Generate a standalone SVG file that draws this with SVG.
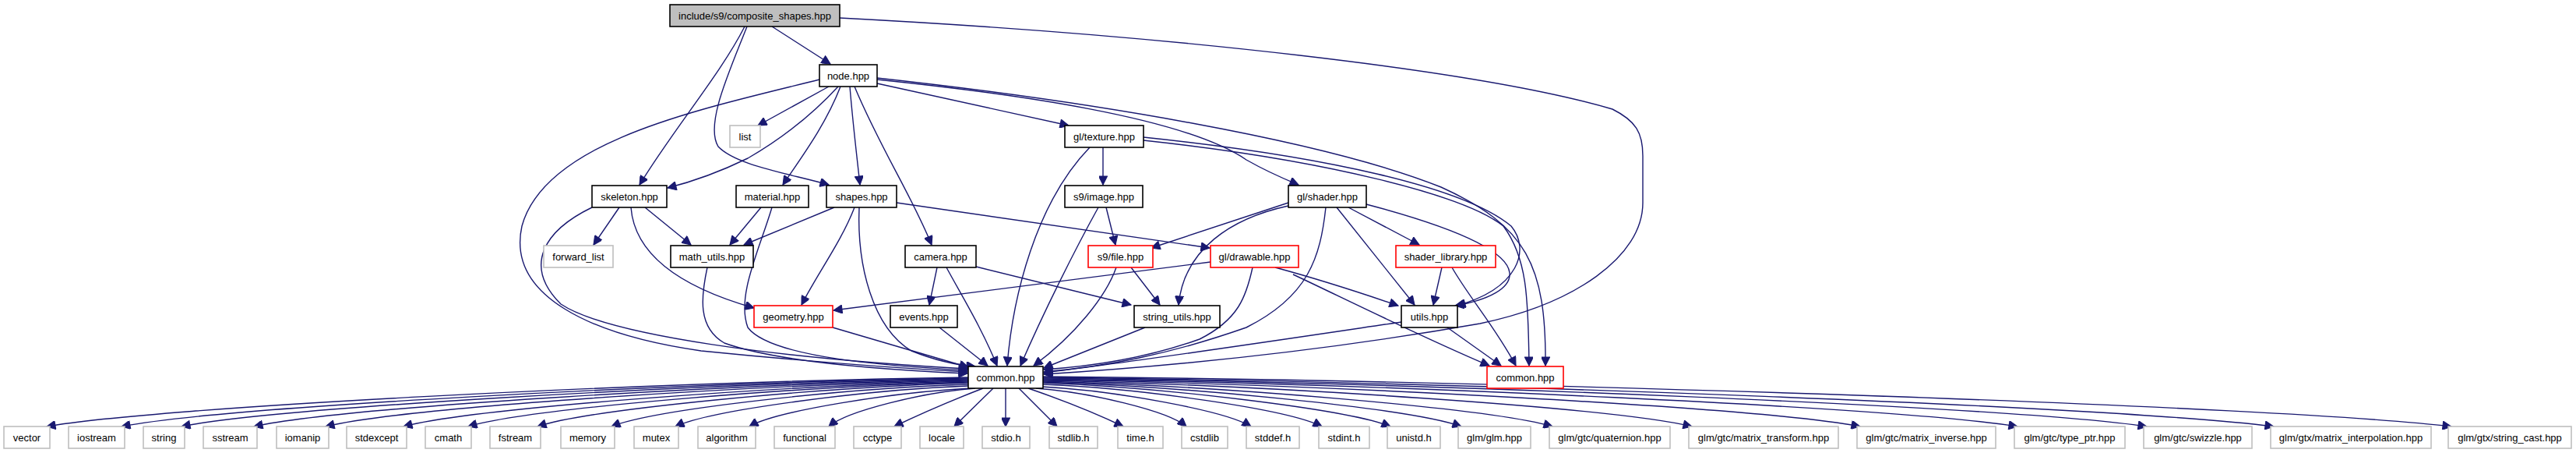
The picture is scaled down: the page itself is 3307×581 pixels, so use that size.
<svg xmlns="http://www.w3.org/2000/svg" width="3307" height="581" viewBox="0 0 3307 581">
<style>
.n rect{fill:#fff;stroke:#000;stroke-width:1.6}
.n.main rect{fill:#bfbfbf}
.n.red rect{stroke:#ff0000}
.n.ext rect{stroke:#bfbfbf}
.n text{font-family:"Liberation Sans",Arial,sans-serif;font-size:13px;text-anchor:middle;fill:#000}
#edges path{fill:none;stroke:#191970;stroke-width:1.4;marker-end:url(#ah)}
</style>
<defs>
<marker id="ah" viewBox="0 0 10 10" refX="10" refY="5" markerWidth="16" markerHeight="11" markerUnits="userSpaceOnUse" orient="auto">
<path d="M0,0 L10,5 L0,10 z" fill="#191970" stroke="#191970"/>
</marker>
</defs>
<rect x="0" y="0" width="3307" height="581" fill="#fff"/>
<g id="edges">
<path d="M991 34 L1066 82"/>
<path d="M956 34 C925 95 865 165 821 237"/>
<path d="M959 34 C935 95 905 160 922 188 C945 212 1010 222 1064 237"/>
<path d="M1078 23 C1500 45 1900 90 2070 140 C2100 155 2109 170 2109 200 L2109 260 C2109 330 2020 390 1900 415 C1700 450 1500 470 1340 480"/>
<path d="M1064 111 L973 161"/>
<path d="M1076 111 C1040 150 1000 180 960 203 C925 220 893 232 857 241"/>
<path d="M1079 111 C1060 160 1030 200 1005 237"/>
<path d="M1091 111 C1095 160 1100 200 1104 237"/>
<path d="M1097 111 C1130 190 1170 250 1196 314"/>
<path d="M1126 107 L1372 161"/>
<path d="M1126 102 C1300 120 1520 150 1600 205 C1630 222 1650 230 1667 237"/>
<path d="M1126 100 C1400 130 1700 180 1850 240 C1960 290 1985 340 1984 469"/>
<path d="M1052 102 C900 140 700 180 670 290 C650 380 760 430 900 450 C1050 465 1150 472 1242 477"/>
<path d="M795 266 L762 314"/>
<path d="M828 266 L887 314"/>
<path d="M810 266 C815 330 880 370 968 395"/>
<path d="M760 266 C700 295 670 340 720 390 C780 430 1000 460 1242 473"/>
<path d="M977 266 L937 314"/>
<path d="M991 266 C975 320 945 380 960 420 C990 460 1150 470 1242 475"/>
<path d="M1071 266 L955 314"/>
<path d="M1097 266 C1080 310 1050 350 1029 391"/>
<path d="M1103 266 C1100 340 1120 420 1170 450 C1200 462 1225 468 1252 470"/>
<path d="M1151 260 L1553 318"/>
<path d="M908 343 C900 380 895 420 930 440 C1000 465 1150 475 1242 479"/>
<path d="M1203 343 L1193 391"/>
<path d="M1215 343 C1235 380 1260 420 1280 469"/>
<path d="M1253 342 L1452 391"/>
<path d="M1420 266 L1432 314"/>
<path d="M1410 266 C1380 320 1340 400 1310 469"/>
<path d="M1452 343 L1489 391"/>
<path d="M1433 343 C1420 380 1380 430 1327 469"/>
<path d="M1554 336 L1070 398"/>
<path d="M1608 343 C1600 380 1590 410 1540 435 C1470 460 1400 470 1340 474"/>
<path d="M1637 343 C1700 360 1760 380 1795 392"/>
<path d="M1660 352 C1720 380 1820 430 1912 469"/>
<path d="M1851 343 L1840 391"/>
<path d="M1864 343 C1885 380 1920 420 1946 469"/>
<path d="M1731 266 L1822 314"/>
<path d="M1716 266 L1816 391"/>
<path d="M1654 260 L1478 318"/>
<path d="M1654 264 C1580 280 1520 320 1513 391"/>
<path d="M1702 266 C1695 330 1680 380 1600 420 C1500 455 1420 470 1340 477"/>
<path d="M1754 262 C1860 290 1935 320 1938 350 C1940 370 1910 385 1868 392"/>
<path d="M1416 189 L1416 237"/>
<path d="M1399 189 C1330 260 1300 380 1293 469"/>
<path d="M1468 176 C1700 200 1880 240 1940 290 C1965 320 1950 370 1870 392"/>
<path d="M1468 180 C1700 205 1880 250 1930 290 C1960 330 1962 380 1963 469"/>
<path d="M1470 420 L1340 472"/>
<path d="M1799 413 C1650 435 1450 465 1340 478"/>
<path d="M1858 420 L1927 469"/>
<path d="M1206 420 L1268 469"/>
<path d="M1069 420 L1243 471"/>
<path d="M1243 484 C829 490 202 522 60 547"/>
<path d="M1243 485 C863 491 286 522 156 547"/>
<path d="M1243 486 C889 492 354 523 233 547"/>
<path d="M1243 487 C922 493 436 523 326 547"/>
<path d="M1243 488 C954 494 517 523 418 547"/>
<path d="M1243 489 C989 495 605 524 518 547"/>
<path d="M1243 490 C1018 496 678 524 601 547"/>
<path d="M1243 491 C1049 497 756 525 690 547"/>
<path d="M1243 493 C1083 498 840 525 785 547"/>
<path d="M1243 495 C1111 500 912 526 867 547"/>
<path d="M1246 498 C1147 503 996 527 962 547"/>
<path d="M1252 498 C1186 503 1087 527 1064 547"/>
<path d="M1262 498 Q1200 522 1148 547"/>
<path d="M1275 498 L1225 547"/>
<path d="M1291 498 L1291 547"/>
<path d="M1308 498 L1357 547"/>
<path d="M1320 498 Q1390 522 1442 547"/>
<path d="M1330 498 C1398 503 1500 527 1523 547"/>
<path d="M1338 496 C1432 501 1574 527 1606 547"/>
<path d="M1339 493 C1464 498 1654 525 1697 547"/>
<path d="M1339 491 C1495 497 1731 525 1785 547"/>
<path d="M1339 490 C1527 496 1812 524 1876 547"/>
<path d="M1339 489 C1568 495 1915 524 1993 547"/>
<path d="M1339 488 C1631 494 2072 523 2172 547"/>
<path d="M1339 487 C1706 493 2262 523 2388 547"/>
<path d="M1339 486 C1777 492 2440 523 2590 547"/>
<path d="M1339 485 C1835 491 2586 522 2756 547"/>
<path d="M1339 484 C1892 490 2729 522 2919 547"/>
<path d="M1339 483 C1972 489 2930 521 3147 547"/>
</g>
<g id="n_composite" class="n main"><rect x="860" y="6" width="218" height="28"/><text x="969" y="24.6">include/s9/composite_shapes.hpp</text></g>
<g id="n_node" class="n"><rect x="1052" y="83" width="74" height="28"/><text x="1089" y="101.6">node.hpp</text></g>
<g id="n_list" class="n ext"><rect x="937" y="161" width="39" height="28"/><text x="956.5" y="179.6">list</text></g>
<g id="n_texture" class="n"><rect x="1367" y="161" width="101" height="28"/><text x="1417.5" y="179.6">gl/texture.hpp</text></g>
<g id="n_skeleton" class="n"><rect x="760" y="238" width="96" height="28"/><text x="808" y="256.6">skeleton.hpp</text></g>
<g id="n_material" class="n"><rect x="945" y="238" width="93" height="28"/><text x="991.5" y="256.6">material.hpp</text></g>
<g id="n_shapes" class="n"><rect x="1061" y="238" width="90" height="28"/><text x="1106" y="256.6">shapes.hpp</text></g>
<g id="n_image" class="n"><rect x="1367" y="238" width="100" height="28"/><text x="1417" y="256.6">s9/image.hpp</text></g>
<g id="n_shader" class="n"><rect x="1654" y="238" width="100" height="28"/><text x="1704" y="256.6">gl/shader.hpp</text></g>
<g id="n_forward_list" class="n ext"><rect x="698" y="315" width="89" height="28"/><text x="742.5" y="333.6">forward_list</text></g>
<g id="n_math_utils" class="n"><rect x="861" y="315" width="106" height="28"/><text x="914" y="333.6">math_utils.hpp</text></g>
<g id="n_camera" class="n"><rect x="1162" y="315" width="91" height="28"/><text x="1207.5" y="333.6">camera.hpp</text></g>
<g id="n_file" class="n red"><rect x="1397" y="315" width="83" height="28"/><text x="1438.5" y="333.6">s9/file.hpp</text></g>
<g id="n_drawable" class="n red"><rect x="1554" y="315" width="113" height="28"/><text x="1610.5" y="333.6">gl/drawable.hpp</text></g>
<g id="n_shader_library" class="n red"><rect x="1792" y="315" width="128" height="28"/><text x="1856" y="333.6">shader_library.hpp</text></g>
<g id="n_geometry" class="n red"><rect x="968" y="392" width="101" height="28"/><text x="1018.5" y="410.6">geometry.hpp</text></g>
<g id="n_events" class="n"><rect x="1143" y="392" width="86" height="28"/><text x="1186" y="410.6">events.hpp</text></g>
<g id="n_string_utils" class="n"><rect x="1456" y="392" width="110" height="28"/><text x="1511" y="410.6">string_utils.hpp</text></g>
<g id="n_utils" class="n"><rect x="1799" y="392" width="72" height="28"/><text x="1835" y="410.6">utils.hpp</text></g>
<g id="n_common" class="n"><rect x="1243" y="470" width="96" height="28"/><text x="1291" y="488.6">common.hpp</text></g>
<g id="n_gl_common" class="n red"><rect x="1909" y="470" width="98" height="28"/><text x="1958" y="488.6">common.hpp</text></g>
<g id="n_vector" class="n ext"><rect x="5" y="547" width="59" height="28"/><text x="34.5" y="565.6">vector</text></g>
<g id="n_iostream" class="n ext"><rect x="88" y="547" width="72" height="28"/><text x="124" y="565.6">iostream</text></g>
<g id="n_string" class="n ext"><rect x="184" y="547" width="53" height="28"/><text x="210.5" y="565.6">string</text></g>
<g id="n_sstream" class="n ext"><rect x="261" y="547" width="69" height="28"/><text x="295.5" y="565.6">sstream</text></g>
<g id="n_iomanip" class="n ext"><rect x="355" y="547" width="67" height="28"/><text x="388.5" y="565.6">iomanip</text></g>
<g id="n_stdexcept" class="n ext"><rect x="445" y="547" width="77" height="28"/><text x="483.5" y="565.6">stdexcept</text></g>
<g id="n_cmath" class="n ext"><rect x="546" y="547" width="59" height="28"/><text x="575.5" y="565.6">cmath</text></g>
<g id="n_fstream" class="n ext"><rect x="629" y="547" width="65" height="28"/><text x="661.5" y="565.6">fstream</text></g>
<g id="n_memory" class="n ext"><rect x="720" y="547" width="69" height="28"/><text x="754.5" y="565.6">memory</text></g>
<g id="n_mutex" class="n ext"><rect x="814" y="547" width="57" height="28"/><text x="842.5" y="565.6">mutex</text></g>
<g id="n_algorithm" class="n ext"><rect x="896" y="547" width="74" height="28"/><text x="933" y="565.6">algorithm</text></g>
<g id="n_functional" class="n ext"><rect x="994" y="547" width="78" height="28"/><text x="1033" y="565.6">functional</text></g>
<g id="n_cctype" class="n ext"><rect x="1096" y="547" width="61" height="28"/><text x="1126.5" y="565.6">cctype</text></g>
<g id="n_locale" class="n ext"><rect x="1181" y="547" width="56" height="28"/><text x="1209" y="565.6">locale</text></g>
<g id="n_stdio" class="n ext"><rect x="1261" y="547" width="61" height="28"/><text x="1291.5" y="565.6">stdio.h</text></g>
<g id="n_stdlib" class="n ext"><rect x="1347" y="547" width="62" height="28"/><text x="1378" y="565.6">stdlib.h</text></g>
<g id="n_time" class="n ext"><rect x="1435" y="547" width="58" height="28"/><text x="1464" y="565.6">time.h</text></g>
<g id="n_cstdlib" class="n ext"><rect x="1517" y="547" width="59" height="28"/><text x="1546.5" y="565.6">cstdlib</text></g>
<g id="n_stddef" class="n ext"><rect x="1600" y="547" width="68" height="28"/><text x="1634" y="565.6">stddef.h</text></g>
<g id="n_stdint" class="n ext"><rect x="1693" y="547" width="65" height="28"/><text x="1725.5" y="565.6">stdint.h</text></g>
<g id="n_unistd" class="n ext"><rect x="1781" y="547" width="68" height="28"/><text x="1815" y="565.6">unistd.h</text></g>
<g id="n_glm" class="n ext"><rect x="1872" y="547" width="93" height="28"/><text x="1918.5" y="565.6">glm/glm.hpp</text></g>
<g id="n_quaternion" class="n ext"><rect x="1989" y="547" width="155" height="28"/><text x="2066.5" y="565.6">glm/gtc/quaternion.hpp</text></g>
<g id="n_matrix_transform" class="n ext"><rect x="2168" y="547" width="192" height="28"/><text x="2264" y="565.6">glm/gtc/matrix_transform.hpp</text></g>
<g id="n_matrix_inverse" class="n ext"><rect x="2384" y="547" width="178" height="28"/><text x="2473" y="565.6">glm/gtc/matrix_inverse.hpp</text></g>
<g id="n_type_ptr" class="n ext"><rect x="2586" y="547" width="142" height="28"/><text x="2657" y="565.6">glm/gtc/type_ptr.hpp</text></g>
<g id="n_swizzle" class="n ext"><rect x="2752" y="547" width="139" height="28"/><text x="2821.5" y="565.6">glm/gtc/swizzle.hpp</text></g>
<g id="n_matrix_interpolation" class="n ext"><rect x="2915" y="547" width="206" height="28"/><text x="3018" y="565.6">glm/gtx/matrix_interpolation.hpp</text></g>
<g id="n_string_cast" class="n ext"><rect x="3143" y="547" width="158" height="28"/><text x="3222" y="565.6">glm/gtx/string_cast.hpp</text></g>
</svg>
